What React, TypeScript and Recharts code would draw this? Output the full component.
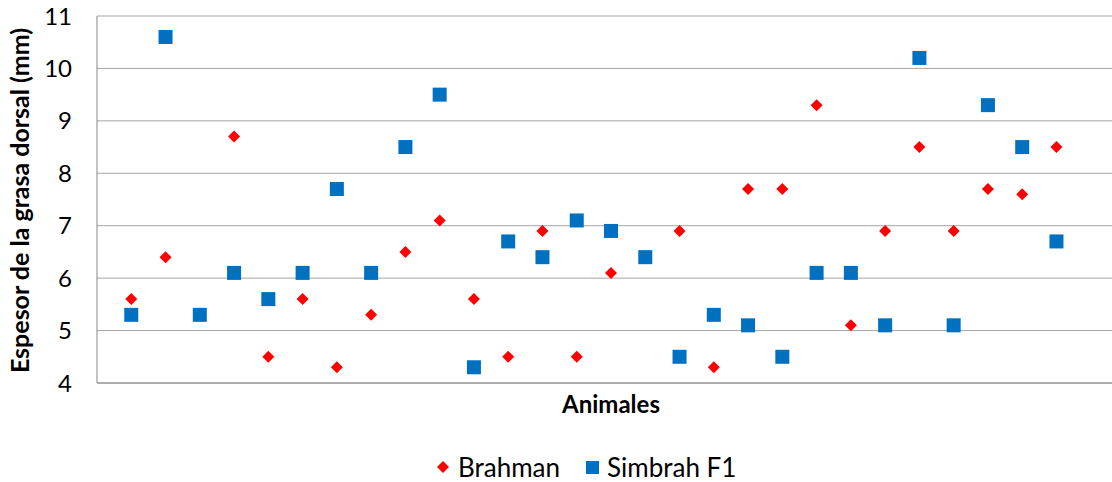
import React from 'react';
import { ScatterChart, Scatter, XAxis, YAxis, CartesianGrid, Legend } from 'recharts';

const animals = [1, 2, 3, 4, 5, 6, 7, 8, 9, 10, 11, 12, 13, 14, 15, 16, 17, 18, 19, 20, 21, 22, 23, 24, 25, 26, 27, 28];
const brahman: (number | null)[] = [5.6, 6.4, null, 8.7, 4.5, 5.6, 4.3, 5.3, 6.5, 7.1, 5.6, 4.5, 6.9, 4.5, 6.1, null, 6.9, 4.3, 7.7, 7.7, 9.3, 5.1, 6.9, 8.5, 6.9, 7.7, 7.6, 8.5];
const simbrah: number[] = [5.3, 10.6, 5.3, 6.1, 5.6, 6.1, 7.7, 6.1, 8.5, 9.5, 4.3, 6.7, 6.4, 7.1, 6.9, 6.4, 4.5, 5.3, 5.1, 4.5, 6.1, 6.1, 5.1, 10.2, 5.1, 9.3, 8.5, 6.7];
const yTicks = [4, 5, 6, 7, 8, 9, 10, 11];
const seriesNames = ['Brahman', 'Simbrah F1'];
const xTitle = 'Animales';
const yTitle = 'Espesor de la grasa dorsal (mm)';

const brahmanData = animals
  .map((a, i) => ({ x: a, y: brahman[i] }))
  .filter((d) => d.y !== null);
const simbrahData = animals.map((a, i) => ({ x: a, y: simbrah[i] }));

const RED = '#FF0000';
const BLUE = '#0070C0';
const FONT = 'Lato, "Liberation Sans", sans-serif';

const Diamond = (props: any) => {
  const { cx, cy } = props;
  const r = 6;
  return <polygon points={`${cx},${cy - r} ${cx + r},${cy} ${cx},${cy + r} ${cx - r},${cy}`} fill={RED} />;
};

const Square = (props: any) => {
  const { cx, cy } = props;
  const s = 14;
  return <rect x={cx - s / 2} y={cy - s / 2} width={s} height={s} fill={BLUE} />;
};

const LegendContent = () => (
  <div style={{ display: 'flex', alignItems: 'center', paddingLeft: 437, fontFamily: FONT, fontSize: 26, color: '#000', height: 30 }}>
    <svg width={12} height={12} style={{ marginRight: 9 }}>
      <polygon points="6,0 12,6 6,12 0,6" fill={RED} />
    </svg>
    <span style={{ marginRight: 26 }}>{seriesNames[0]}</span>
    <svg width={13} height={13} style={{ marginRight: 8 }}>
      <rect x={0} y={0} width={13} height={13} fill={BLUE} />
    </svg>
    <span>{seriesNames[1]}</span>
  </div>
);

export default function App() {
  return (
    <div style={{ position: 'absolute', left: 0, top: 0, width: 1112, height: 482, overflow: 'hidden', background: '#fff' }}>
      <ScatterChart width={1140} height={482} margin={{ top: 16, right: 15, left: 0, bottom: 20 }}>
        <CartesianGrid horizontal vertical={false} stroke="#A6A6A6" />
        <XAxis
          type="number"
          dataKey="x"
          domain={[0, 30]}
          tick={false}
          tickLine={false}
          axisLine={{ stroke: '#868686' }}
          height={49}
          label={(p: any) => {
            const vb = p.viewBox;
            return (
              <text x={vb.x + vb.width / 2} y={vb.y + 30} textAnchor="middle" fontFamily={FONT} fontWeight="bold" fontSize={24} fill="#000">
                {xTitle}
              </text>
            );
          }}
        />
        <YAxis
          type="number"
          dataKey="y"
          domain={[4, 11]}
          ticks={yTicks}
          width={97}
          tickLine={false}
          tickSize={6}
          tickMargin={19}
          axisLine={{ stroke: '#868686' }}
          tick={{ fontFamily: FONT, fontSize: 24, fill: '#000' }}
          label={(p: any) => {
            const vb = p.viewBox;
            const cx = 29;
            const cy = vb.y + vb.height / 2 + 1;
            return (
              <text x={cx} y={cy} transform={`rotate(-90 ${cx} ${cy})`} textAnchor="middle" fontFamily={FONT} fontWeight="bold" fontSize={25} fill="#000">
                {yTitle}
              </text>
            );
          }}
        />
        <Legend verticalAlign="bottom" height={30} wrapperStyle={{ top: 452, left: 0 }} content={<LegendContent />} />
        <Scatter name={seriesNames[0]} data={brahmanData} shape={<Diamond />} isAnimationActive={false} />
        <Scatter name={seriesNames[1]} data={simbrahData} shape={<Square />} isAnimationActive={false} />
      </ScatterChart>
    </div>
  );
}
